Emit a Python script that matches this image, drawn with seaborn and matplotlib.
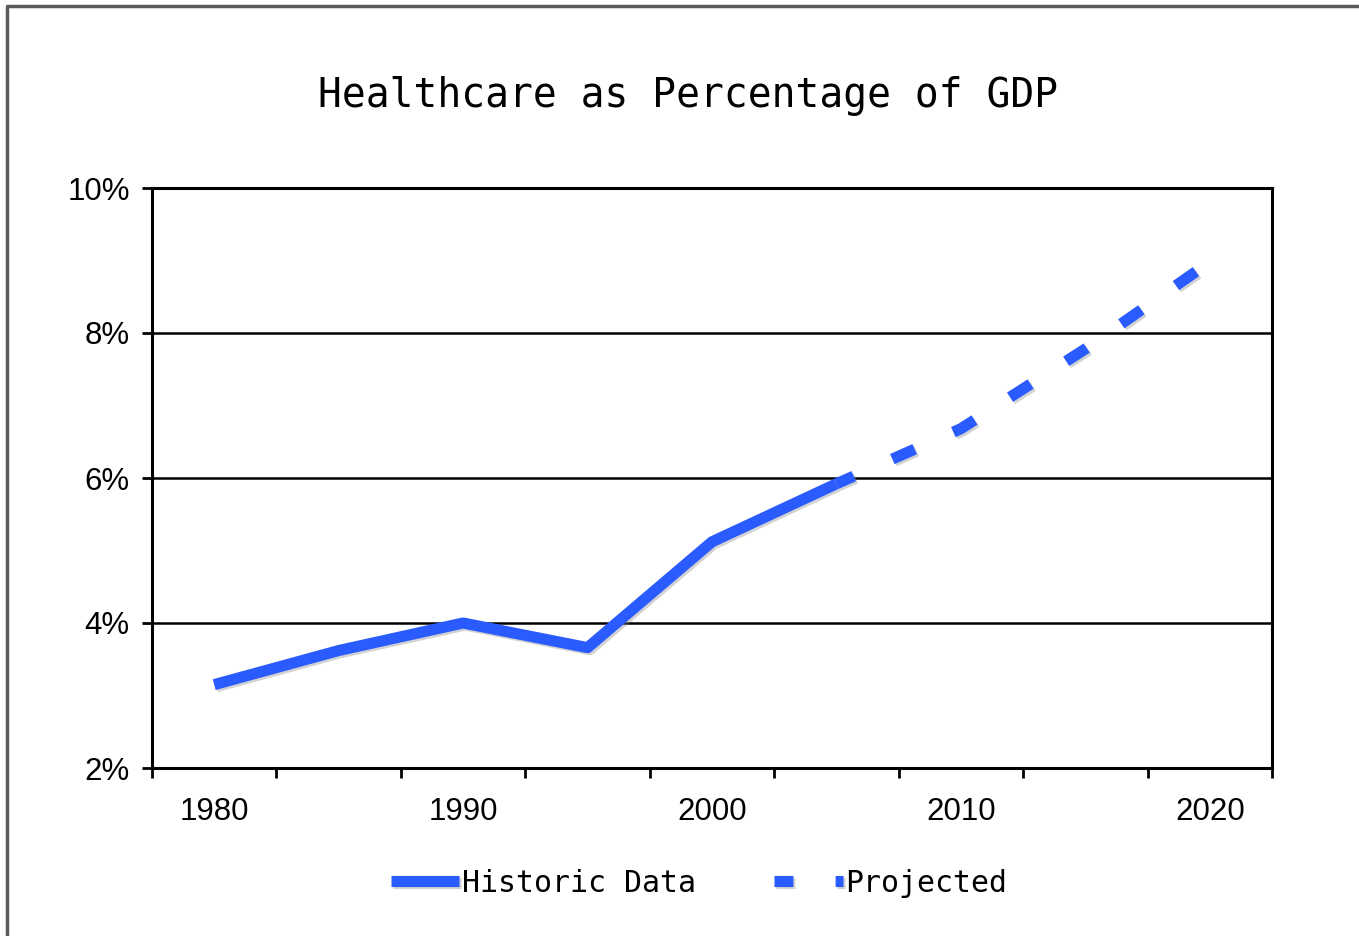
import matplotlib
matplotlib.use("Agg")
import matplotlib.pyplot as plt
import matplotlib.patheffects as pe
from matplotlib.lines import Line2D
import pandas as pd
import seaborn as sns

# data (percent of GDP)
hist_years = [1980, 1985, 1990, 1995, 2000, 2005]
hist_pct = [3.15, 3.62, 4.0, 3.66, 5.12, 5.92]
proj_years = [2005, 2010, 2015, 2020]
proj_pct = [5.92, 6.68, 7.78, 8.98]
label_years = [1980, 1990, 2000, 2010, 2020]
y_ticks = [2, 4, 6, 8, 10]

BLUE = "#2a5bff"
W, H = 1359, 936

sns.set_style("white")
plt.rcParams["font.family"] = ["Liberation Sans", "DejaVu Sans"]
plt.rcParams["text.color"] = "black"
plt.rcParams["xtick.color"] = "black"
plt.rcParams["ytick.color"] = "black"

fig = plt.figure(figsize=(W / 100, H / 100), dpi=100)
ax = fig.add_axes([152 / W, 1 - 768 / H, 1120 / W, 580 / H])

shadow = [pe.SimpleLineShadow(offset=(1.5, -1.5), shadow_color="gray", alpha=0.35), pe.Normal()]

hist = pd.DataFrame({"year": hist_years, "pct": hist_pct})
proj = pd.DataFrame({"year": proj_years, "pct": proj_pct})

sns.lineplot(data=hist, x="year", y="pct", ax=ax, color=BLUE, lw=8,
             solid_capstyle="butt", path_effects=shadow, label="Historic Data")
sns.lineplot(data=proj, x="year", y="pct", ax=ax, color=BLUE, lw=8,
             linestyle=(0.5, (2.2, 3.8)), dash_capstyle="butt",
             path_effects=shadow, label="Projected")

# category-style x axis: ticks between 5-year slots, labels every decade
all_years = hist_years + proj_years[1:]
bounds = [y - 2.5 for y in all_years] + [all_years[-1] + 2.5]
ax.set_xlim(bounds[0], bounds[-1])
ax.set_xticks(bounds)
ax.set_xticks(label_years, minor=True)
ax.set_xticklabels([str(y) for y in label_years], minor=True)
ax.tick_params(axis="x", which="major", length=7, width=2, direction="out",
               labelbottom=False, bottom=True)
ax.tick_params(axis="x", which="minor", length=0, pad=21, labelsize=22.5, bottom=True)

ax.set_ylim(2, 10)
ax.set_yticks(y_ticks)
ax.set_yticklabels([f"{v}%" for v in y_ticks])
ax.tick_params(axis="y", length=7, width=2, direction="out",
               pad=9, labelsize=22.5, left=True)

ax.yaxis.grid(True, color="black", lw=1.8)
ax.xaxis.grid(False)
for s in ax.spines.values():
    s.set_visible(True)
    s.set_color("black")
    s.set_linewidth(2.2)
ax.set_xlabel("")
ax.set_ylabel("")

fig.text(688 / W, 1 - 96 / H, "Healthcare as Percentage of GDP",
         family="DejaVu Sans Mono", size=28.5, ha="center", va="center")

handles, labels = ax.get_legend_handles_labels()
ax.legend_.remove()
fig.legend(handles, labels, loc="center", bbox_to_anchor=(699 / W, 1 - 883 / H),
           ncol=2, frameon=False, prop={"family": "DejaVu Sans Mono", "size": 21.5},
           handlelength=2.3, handletextpad=0.1, columnspacing=2.6)

# outer frame (left and top edges visible in the reference)
fig.add_artist(Line2D([7 / W, 7 / W, 1], [0, 1 - 6 / H, 1 - 6 / H],
                      transform=fig.transFigure, color="#5a5a5a", lw=2.5))

fig.savefig("out.png", dpi=100)
